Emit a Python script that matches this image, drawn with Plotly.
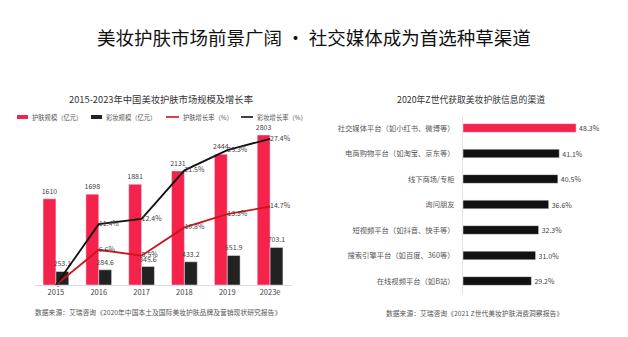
import plotly.graph_objects as go

FONT = "Noto Sans CJK SC"

years = ["2015", "2016", "2017", "2018", "2019", "2023e"]
skincare_size = [1610, 1698, 1881, 2131, 2444, 2803]
makeup_size = [253.1, 284.6, 345.6, 433.2, 551.9, 703.1]
skincare_growth = [0, 6.6, 5.5, 10.8, 13.3, 14.7]
makeup_growth = [0, 11.4, 12.4, 21.5, 25.3, 27.4]

legend_names = ["护肤规模（亿元）", "彩妆规模（亿元）", "护肤增长率（%）", "彩妆增长率（%）"]

channels = [
    "社交媒体平台（如小红书、微博等）",
    "电商购物平台（如淘宝、京东等）",
    "线下商场/专柜",
    "询问朋友",
    "短视频平台（如抖音、快手等）",
    "搜索引擎平台（如百度、360等）",
    "在线视频平台（如B站）",
]
channel_share = [48.3, 41.1, 40.5, 36.6, 32.3, 31.0, 29.2]

RED = "#F5224B"
DARK = "#222222"
LINE_RED = "#C8161D"

W, H = 628, 337


def py(px):
    return 1 - px / H


def pxx(px):
    return px / W


fig = go.Figure()

fig.add_trace(go.Bar(
    x=years, y=skincare_size, name=legend_names[0],
    marker_color=RED, width=0.3, offset=-0.3,
    text=[str(v) for v in skincare_size], textposition="outside",
    constraintext="none",
    textfont=dict(size=7, color="#444"), cliponaxis=False,
    xaxis="x", yaxis="y",
))
fig.add_trace(go.Bar(
    x=years, y=makeup_size, name=legend_names[1],
    marker_color=DARK, width=0.3, offset=0.0,
    text=[f"{v:.1f}" for v in makeup_size], textposition="outside",
    constraintext="none",
    textfont=dict(size=7, color="#444"), cliponaxis=False,
    xaxis="x", yaxis="y",
))
fig.add_trace(go.Scatter(
    x=years, y=skincare_growth, name=legend_names[2], mode="lines+text",
    line=dict(color=LINE_RED, width=1.8),
    text=[""] + [f"{v:.1f}%" for v in skincare_growth[1:]],
    textposition="middle right", textfont=dict(size=7, color="#444"),
    cliponaxis=False, xaxis="x", yaxis="y2",
))
fig.add_trace(go.Scatter(
    x=years, y=makeup_growth, name=legend_names[3], mode="lines+text",
    line=dict(color="#111111", width=1.8),
    text=["0"] + [f"{v:.1f}%" for v in makeup_growth[1:]],
    textposition="middle right", textfont=dict(size=7, color="#444"),
    cliponaxis=False, xaxis="x", yaxis="y2",
))

fig.add_trace(go.Bar(
    y=channels, x=channel_share, orientation="h",
    marker_color=[RED] + ["#111111"] * (len(channels) - 1),
    width=0.34,
    text=[f"{v:.1f}%" for v in channel_share], textposition="outside",
    constraintext="none",
    textfont=dict(size=7, color="#444"), cliponaxis=False,
    xaxis="x3", yaxis="y3",
))

# hand-drawn legend (styling only)
leg_y = 117
leg_items = [
    (17, 28, 30, "rect", RED),
    (91, 102, 104, "rect", DARK),
    (166, 179, 181, "line", LINE_RED),
    (241, 253, 255, "line", "#111111"),
]
shapes = []
annotations = []
for (x0, x1, tx, kind, col), name in zip(leg_items, legend_names):
    if kind == "rect":
        shapes.append(dict(type="rect", xref="paper", yref="paper",
                           x0=pxx(x0), x1=pxx(x1), y0=py(leg_y + 2), y1=py(leg_y - 2),
                           fillcolor=col, line=dict(width=0)))
    else:
        shapes.append(dict(type="line", xref="paper", yref="paper",
                           x0=pxx(x0), x1=pxx(x1), y0=py(leg_y), y1=py(leg_y),
                           line=dict(color=col, width=1.6)))
    annotations.append(dict(text=name, x=pxx(tx), y=py(leg_y), xref="paper", yref="paper",
                            showarrow=False, xanchor="left", yanchor="middle",
                            font=dict(size=6.3, color="#555")))

annotations += [
    dict(text="美妆护肤市场前景广阔 · 社交媒体成为首选种草渠道",
         x=pxx(314), y=py(37), xref="paper", yref="paper",
         showarrow=False, xanchor="center", yanchor="middle",
         font=dict(size=18.5, color="#111")),
    dict(text="2015-2023年中国美妆护肤市场规模及增长率",
         x=pxx(161), y=py(99), xref="paper", yref="paper",
         showarrow=False, xanchor="center", yanchor="middle",
         font=dict(size=9.3, color="#333")),
    dict(text="2020年Z世代获取美妆护肤信息的渠道",
         x=pxx(471), y=py(99), xref="paper", yref="paper",
         showarrow=False, xanchor="center", yanchor="middle",
         font=dict(size=8.8, color="#333")),
    dict(text="数据来源：艾瑞咨询《2020年中国本土及国际美妆护肤品牌及营销现状研究报告》",
         x=pxx(33), y=py(312), xref="paper", yref="paper",
         showarrow=False, xanchor="left", yanchor="middle",
         font=dict(size=6.8, color="#555")),
    dict(text="数据来源：艾瑞咨询《2021 Z世代美妆护肤消费洞察报告》",
         x=pxx(384), y=py(313), xref="paper", yref="paper",
         showarrow=False, xanchor="left", yanchor="middle",
         font=dict(size=6.8, color="#555")),
]

fig.update_layout(
    width=W, height=H,
    margin=dict(l=0, r=0, t=0, b=0),
    paper_bgcolor="white", plot_bgcolor="white",
    font=dict(family=FONT, color="#444"),
    barmode="overlay",
    showlegend=False,
    xaxis=dict(
        domain=[pxx(34.5), pxx(291.5)], type="category", range=[-0.5, 5.5],
        showgrid=False, showline=True, linecolor="#DDDDDD", linewidth=1,
        ticks="", tickfont=dict(size=7.5, color="#444"), zeroline=False,
    ),
    yaxis=dict(
        domain=[py(285), py(125)], range=[0, 2990], visible=False,
        showgrid=False, zeroline=False,
    ),
    yaxis2=dict(
        overlaying="y", range=[0, 30], visible=False, showgrid=False,
        zeroline=False,
    ),
    xaxis3=dict(
        domain=[pxx(463), pxx(600)], range=[0, 58.5], visible=False,
        showgrid=False, zeroline=False,
    ),
    yaxis3=dict(
        domain=[py(293.75), py(115.25)], anchor="x3", type="category",
        autorange="reversed", showgrid=False, showline=True,
        linecolor="#E3E3E3", linewidth=1, ticks="", ticklabelstandoff=6,
        tickfont=dict(size=7.3, color="#555"),
    ),
    shapes=shapes,
    annotations=annotations,
)

fig.write_html("out.html")
